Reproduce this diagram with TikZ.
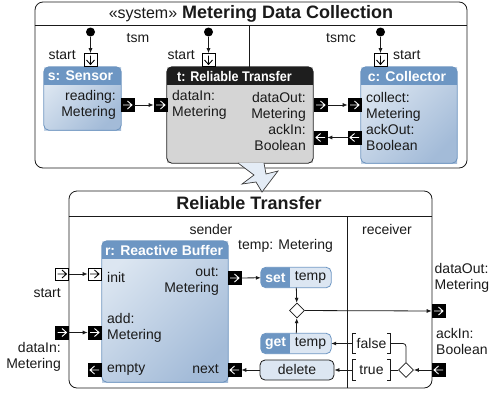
\documentclass[tikz,border=0pt]{standalone}
\usepackage{fontspec}
\setmainfont{Liberation Sans}
\usetikzlibrary{arrows.meta,shapes.geometric,calc}

\definecolor{ink}{HTML}{1A1A1A}
\definecolor{hdrblue}{HTML}{6D96C3}
\definecolor{bordblue}{HTML}{6A92BE}
\definecolor{bodyA}{HTML}{DCE6F1}
\definecolor{bodyB}{HTML}{A3BBD8}
\definecolor{actlight}{HTML}{DCE6F2}
\definecolor{tbody}{HTML}{D5D5D5}
\definecolor{thead}{HTML}{1E1E1E}
\definecolor{refine}{HTML}{E4ECF6}

% header band of a block: node, fill, border colour, band height (pt)
\newcommand\blkhead[4]{%
  \begin{scope}
    \clip[rounded corners=5pt] (#1.north west) rectangle (#1.south east);
    \fill[#2] (#1.north west) rectangle ([yshift=-#4pt]#1.north east);
  \end{scope}
  \draw[#3, line width=0.8pt, rounded corners=5pt] (#1.north west) rectangle (#1.south east);
}
% two-tone action (keyword part in blue)
\newcommand\actsplit[2]{%
  \begin{scope}
    \clip[rounded corners=5pt] (#1.north west) rectangle (#1.south east);
    \fill[hdrblue] (#1.north west) rectangle ([xshift=#2pt]#1.south west);
  \end{scope}
  \draw[hdrblue, line width=0.8pt, rounded corners=5pt] (#1.north west) rectangle (#1.south east);
}

\tikzset{
  lbl/.style={font=\fontsize{14}{16}\selectfont, text=ink, inner sep=0pt},
  hdr/.style={font=\bfseries\fontsize{14}{16}\selectfont, text=white, inner sep=0pt},
  ttl/.style={font=\fontsize{18}{20}\selectfont, text=ink, inner sep=0pt},
  wire/.style={draw=ink, line width=0.8pt},
  conn/.style={draw=ink, line width=0.8pt, -{Latex[length=5pt,width=4pt]}},
  bluebody/.style={top color=bodyA, bottom color=bodyB, shading angle=45, inner sep=0pt},
  port/.style={rectangle, minimum width=13pt, minimum height=13pt, inner sep=0pt, line width=0.6pt, draw=black},
  bport/.style={port, fill=black},
  wport/.style={port, fill=white},
  dot/.style={circle, fill=black, minimum size=9pt, inner sep=0pt},
  choice/.style={diamond, draw=ink, fill=white, line width=0.8pt, minimum width=15pt, minimum height=15pt, inner sep=0pt},
  act/.style={rectangle, rounded corners=5pt, fill=actlight, minimum width=70pt, minimum height=20pt, inner sep=0pt},
  guard/.style={lbl, minimum width=37pt, minimum height=20pt},
  chE/.style={path picture={\draw[#1, line width=0.9pt]
      ([xshift=-4.5pt]path picture bounding box.center) -- ([xshift=4.5pt]path picture bounding box.center)
      ([shift={(0pt,4pt)}]path picture bounding box.center) -- ([xshift=4.5pt]path picture bounding box.center)
      -- ([shift={(0pt,-4pt)}]path picture bounding box.center);}},
  chW/.style={path picture={\draw[#1, line width=0.9pt]
      ([xshift=4.5pt]path picture bounding box.center) -- ([xshift=-4.5pt]path picture bounding box.center)
      ([shift={(0pt,4pt)}]path picture bounding box.center) -- ([xshift=-4.5pt]path picture bounding box.center)
      -- ([shift={(0pt,-4pt)}]path picture bounding box.center);}},
  chS/.style={path picture={\draw[#1, line width=0.9pt]
      ([yshift=4.5pt]path picture bounding box.center) -- ([yshift=-4.5pt]path picture bounding box.center)
      ([shift={(-4pt,0pt)}]path picture bounding box.center) -- ([yshift=-4.5pt]path picture bounding box.center)
      -- ([shift={(4pt,0pt)}]path picture bounding box.center);}},
}

\begin{document}
\begin{tikzpicture}[x=1pt,y=-1pt]
\useasboundingbox (0,0) rectangle (489,394);

% ---------------- system frame ----------------
\node[draw=ink, line width=0.8pt, rounded corners=8pt, minimum width=432pt, minimum height=166pt, inner sep=0pt] (sys) at (251,85) {};
\draw[wire] (sys.west |- 0,25) -- (sys.east |- 0,25);
\node[ttl] (systitle) at (251,14) {{\fontsize{16}{18}\selectfont «system»} \textbf{Metering Data Collection}};
\node[lbl] (tsm) at (138,38) {tsm};
\node[lbl] (tsmc) at (341,38) {tsmc};

% sensor
\node[bluebody, minimum width=77pt, minimum height=63pt] (s) at (82.5,98.5) {};
\blkhead{s}{hdrblue}{bordblue}{18}
\node[hdr] (sh) at (80.5,76) {s: Sensor};
\node[lbl, anchor=east, align=right] (sb) at (116,105) {reading:\\Metering};

% reliable transfer part
\node[fill=tbody, minimum width=146pt, minimum height=96pt, inner sep=0pt] (t) at (240,115) {};
\blkhead{t}{thead}{thead}{18}
\node[hdr] (th) at (234.5,76) {\scalebox{0.9}[1]{t: Reliable Transfer}};
\node[lbl, anchor=west, align=left] (tb1) at (172,105) {dataIn:\\Metering};
\node[lbl, anchor=east, align=right] (tb2) at (306,121.5) {dataOut:\\Metering\\[0.5pt]ackIn:\\Boolean};

% collector
\node[bluebody, minimum width=96pt, minimum height=96pt] (c) at (409,115) {};
\blkhead{c}{hdrblue}{bordblue}{18}
\node[hdr] (ch) at (407,76) {c: Collector};
\node[lbl, anchor=west, align=left] (cb) at (366,121.5) {collect:\\Metering\\[0.5pt]ackOut:\\Boolean};

% region divider
\coordinate (dv) at (249,25);
\draw[wire] (dv) -- (dv |- t.north);

% start pseudo-states
\node[dot] (s0) at (90.5,32) {};
\node[wport, chS=black] (sst) at (90.5,60) {};
\draw[conn] (s0) -- (sst);
\node[lbl, anchor=east] (sstl) at (76,55) {start};

\node[dot] (t0) at (208.5,32) {};
\node[wport, chS=black] (tst) at (208.5,60) {};
\draw[conn] (t0) -- (tst);
\node[lbl, anchor=east] (tstl) at (195,55) {start};

\node[dot] (c0) at (380.5,32) {};
\node[wport, chS=black] (cst) at (380.5,60) {};
\draw[conn] (c0) -- (cst);
\node[lbl, anchor=west] (cstl) at (393,55) {start};

% flow ports
\node[bport, chE=white] (sread) at (127.5,105) {};
\node[bport, chE=white] (tin) at (160.5,105) {};
\node[bport, chE=white] (tout) at (320.5,105) {};
\node[bport, chE=white] (ccol) at (354.5,105) {};
\node[bport, chW=white] (tack) at (320.5,137.5) {};
\node[bport, chW=white] (cack) at (354.5,137.5) {};
\draw[conn] (sread) -- (tin);
\draw[conn] (tout) -- (ccol);
\draw[conn] (cack) -- (tack);

% ---------------- reliable transfer frame ----------------
\node[draw=ink, line width=0.8pt, rounded corners=8pt, minimum width=363pt, minimum height=197pt, inner sep=0pt, fill=white] (rt) at (250.5,289.5) {};
\draw[wire] (rt.west |- 0,216) -- (rt.east |- 0,216);
\node[ttl, font=\bfseries\fontsize{18}{20}\selectfont] (rttitle) at (249,203.5) {Reliable Transfer};
\coordinate (rv) at (347,216);
\draw[wire] (rv) -- (rv |- rt.south);
\node[lbl] (sender) at (211,229) {sender};
\node[lbl] (receiver) at (387,229) {receiver};
\node[lbl, anchor=west] (tempvar) at (238,246) {temp: Metering};

% refinement arrow
\draw[fill=refine, draw=ink!85, line width=0.7pt, line join=miter]
  (238,163) -- (254,175) -- (242,184) -- (256,182) -- (262,192) -- (278,171) -- (266,174) -- (264,163);

% reactive buffer
\node[bluebody, minimum width=126pt, minimum height=141pt] (r) at (165,311.5) {};
\blkhead{r}{hdrblue}{bordblue}{18}
\node[hdr] (rh) at (164,250) {r: Reactive Buffer};
\node[lbl, anchor=west] (rinit) at (107,277) {init};
\node[lbl, anchor=west, align=left] (radd) at (107,328) {add:\\Metering};
\node[lbl, anchor=west] (rempty) at (107,369.5) {empty};
\node[lbl, anchor=east, align=right] (rout) at (219,281) {out:\\Metering};
\node[lbl, anchor=east] (rnext) at (219,369.5) {next};

% boundary ports
\node[wport, minimum height=12pt, chE=black] (pstart) at (62,274) {};
\node[lbl, anchor=east] (pstartl) at (61,293) {start};
\node[bport, chE=white] (pdata) at (62,332.5) {};
\node[lbl, anchor=east, align=right] (pdatal) at (61,357) {dataIn:\\Metering};
\node[bport, chE=white] (pdout) at (438.5,311) {};
\node[lbl, anchor=west, align=left] (pdoutl) at (434.5,278) {dataOut:\\Metering};
\node[bport, chW=white] (pack) at (438.5,370) {};
\node[lbl, anchor=west, align=left] (packl) at (436,341) {ackIn:\\Boolean};

% buffer ports
\node[wport, minimum height=12pt, chE=black] (binit) at (94.5,274) {};
\node[bport, chE=white] (badd) at (94.5,332.5) {};
\node[bport, chW=white] (bempty) at (94.5,370) {};
\node[bport, chE=white] (bout) at (234.5,278) {};
\node[bport, chW=white] (bnext) at (234.5,370) {};

% sender actions
\node[act] (set) at (296,277.5) {};
\actsplit{set}{29}
\node[hdr] (setk) at (275.5,277.5) {set};
\node[lbl] (setv) at (310.5,277) {temp};

\node[choice] (d1) at (297,310.5) {};

\node[act] (get) at (296,343.5) {};
\actsplit{get}{29}
\node[hdr] (getk) at (275.5,343.5) {get};
\node[lbl] (getv) at (310.5,343) {temp};

\node[act, draw=ink, line width=0.8pt, minimum width=74pt] (del) at (297,370) {};
\node[lbl] (dell) at (297,369.5) {delete};

% receiver decision and guards
\node[choice] (d2) at (406,370) {};
\node[guard] (gf) at (371.5,343.5) {false};
\node[guard] (gt) at (371.5,370) {true};
\foreach \g in {gf,gt}{
  \draw[wire] ([xshift=3pt]\g.north west) -- (\g.north west) -- (\g.south west) -- ([xshift=3pt]\g.south west);
  \draw[wire] ([xshift=-3pt]\g.north east) -- (\g.north east) -- (\g.south east) -- ([xshift=-3pt]\g.south east);
}

% flows
\draw[conn] (pstart) -- (binit);
\draw[conn] (pdata) -- (badd);
\draw[conn] (bout) -- (set);
\draw[conn] (set) -- (d1);
\draw[conn] (get) -- (d1);
\draw[conn] (d1) -- (pdout);
\draw[conn] (pack) -- (d2);
\draw[wire, rounded corners=3pt] (d2.north) |- (gf.east);
\draw[conn] (gf) -- (get);
\draw[wire] (d2) -- (gt);
\draw[conn] (gt) -- (del);
\draw[conn] (del) -- (bnext);

\end{tikzpicture}
\end{document}
